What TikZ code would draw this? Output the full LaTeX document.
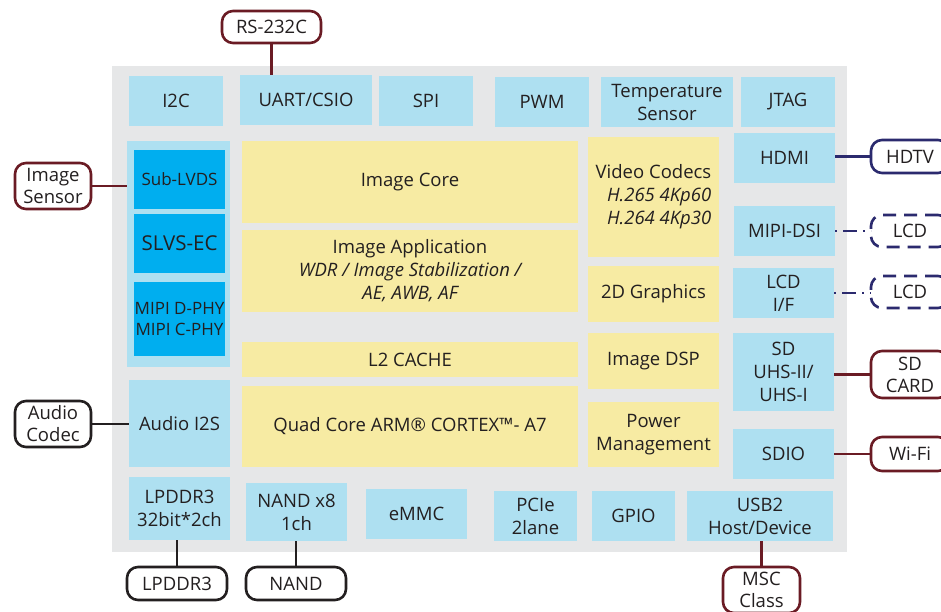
\documentclass[tikz,border=0pt]{standalone}
\usepackage{fontspec}
\setmainfont{Open Sans}
\usetikzlibrary{shapes}
\usetikzlibrary{arrows}

\begin{document}
\begin{tikzpicture}[x=1pt,y=1pt,
  sz/.style 2 args={minimum width=#1pt,minimum height=#2pt},
  blueBox/.style={fill=lightBlue,inner sep=0pt,outer sep=0pt,align=center,text=textColor,font=\fontsize{18.5}{23}\selectfont},
  cyanBox/.style={blueBox,fill=deepBlue,font=\fontsize{17}{21.5}\selectfont},
  yellowBox/.style={blueBox,fill=paleYellow},
  extBox/.style={draw=#1,line width=2.6pt,rounded corners=11pt,inner sep=0pt,outer sep=0pt,align=center,text=textColor,font=\fontsize{18.5}{22}\selectfont},
  wire/.style={draw=#1,line width=2.6pt}]
\definecolor{fillColor}{RGB}{255,255,255}
\definecolor{panelGray}{RGB}{230,231,232}
\definecolor{lightBlue}{RGB}{174,224,241}
\definecolor{deepBlue}{RGB}{0,174,239}
\definecolor{paleYellow}{RGB}{247,235,163}
\definecolor{textColor}{RGB}{35,31,32}
\definecolor{wineColor}{RGB}{106,27,36}
\definecolor{navyColor}{RGB}{43,42,110}
\definecolor{inkColor}{RGB}{35,31,32}
\path[use as bounding box,fill=fillColor] (0,0) rectangle (941,611);
\clip (0,0) rectangle (941,611);

% chip panel
\path[fill=panelGray] (112, 59) rectangle (847,545);

% top row
\node[blueBox,sz={94}{50}]  (i2c)   at (176,510) {I2C};
\node[blueBox,sz={132}{50}] (uart)  at (306,511) {UART/CSIO};
\node[blueBox,sz={94}{50}]  (spi)   at (426,510) {SPI};
\node[blueBox,sz={94}{50}]  (pwm)   at (542,509) {PWM};
\node[blueBox,sz={132}{50}] (tsens) at (667,509) {Temperature\\Sensor};
\node[blueBox,sz={94}{50}]  (jtag)  at (788,509) {JTAG};

% sensor interfaces
\node[blueBox,sz={103}{226}] (sensors) at (178.5,357) {};
\node[cyanBox,sz={91}{59}] (sublvds) at (179.5,431.5) {Sub-LVDS};
\node[cyanBox,sz={91}{59},font=\fontsize{20.5}{23}\selectfont] (slvs) at (179.5,367.5) {SLVS-EC};
\node[cyanBox,sz={91}{74}] (mipiphy) at (179.5,292) {MIPI D-PHY\\MIPI C-PHY};

% core blocks
\node[yellowBox,sz={336}{82}] (imgcore)  at (410,429) {Image Core};
\node[yellowBox,sz={336}{82}] (imgapp)   at (410,340) {Image Application\\\itshape WDR / Image Stabilization /\\\itshape AE, AWB, AF};
\node[yellowBox,sz={336}{35}] (ltwo)     at (410,251.5) {L2 CACHE};
\node[yellowBox,sz={336}{81}] (quadcore) at (410,184.5) {Quad Core ARM® CORTEX™- A7};
\node[yellowBox,sz={131}{120},align=right] (vcodec) at (653.5,414) {Video Codecs\\\itshape H.265 4Kp60\\\itshape H.264 4Kp30};
\node[yellowBox,sz={131}{56}] (gfx)  at (653.5,317) {2D Graphics};
\node[yellowBox,sz={131}{56}] (idsp) at (653.5,250) {Image DSP};
\node[yellowBox,sz={131}{65}] (pwr)  at (653.5,176.5) {Power\\Management};

% right column
\node[blueBox,sz={101}{50}] (hdmi)    at (784.5,453) {HDMI};
\node[blueBox,sz={101}{50}] (mipidsi) at (784.5,380) {MIPI-DSI};
\node[blueBox,sz={101}{50}] (lcdif)   at (783.5,318) {LCD\\I/F};
\node[blueBox,sz={101}{78}] (sdhost)  at (783.5,239) {SD\\UHS-II/\\UHS-I};
\node[blueBox,sz={101}{50}] (sdio)    at (783.5,157) {SDIO};

% left column and bottom row
\node[blueBox,sz={101}{87}]  (i2s)   at (179.5,187.5) {Audio I2S};
\node[blueBox,sz={101}{63}]  (lpddr) at (179.5,102.5) {LPDDR3\\32bit*2ch};
\node[blueBox,sz={101}{58}]  (nand)  at (296.5,99) {NAND x8\\1ch};
\node[blueBox,sz={101}{50}]  (emmc)  at (416.5,97) {eMMC};
\node[blueBox,sz={83}{50}]   (pcie)  at (535.5,95) {PCIe\\2lane};
\node[blueBox,sz={83}{50}]   (gpio)  at (633.5,95) {GPIO};
\node[blueBox,sz={146}{50}]  (usb)   at (760,95) {USB2\\Host/Device};

% external devices
\node[extBox=wineColor,sz={99}{32}]  (rsc)       at (271.5,584) {RS-232C};
\node[extBox=wineColor,sz={76}{46}]  (imgsensor) at (53,425) {Image\\Sensor};
\node[extBox=inkColor,sz={76}{46}]   (acodec)    at (53,187) {Audio\\Codec};
\node[extBox=inkColor,sz={100}{33}]  (lpddrx)    at (177,27.5) {LPDDR3};
\node[extBox=inkColor,sz={100}{33}]  (nandx)     at (296,27.5) {NAND};
\node[extBox=wineColor,sz={77}{46}]  (msc)       at (761.5,21) {MSC\\Class};
\node[extBox=navyColor,sz={78}{33}]  (hdtv)      at (910,454.5) {HDTV};
\node[extBox=navyColor,sz={78}{32},dash pattern=on 13pt off 8pt] (lcda) at (910,380) {LCD};
\node[extBox=navyColor,sz={78}{32},dash pattern=on 13pt off 8pt] (lcdb) at (910,319) {LCD};
\node[extBox=wineColor,sz={78}{47}]  (sdcard)    at (910,236.5) {SD\\CARD};
\node[extBox=wineColor,sz={78}{34}]  (wifi)      at (910,157) {Wi-Fi};

% connections
\path[wire=wineColor] (rsc.south) -- (rsc.south |- uart.north);
\path[wire=wineColor] (imgsensor.east) -- (imgsensor.east -| sensors.west);
\path[wire=inkColor] (acodec.east) -- (acodec.east -| i2s.west);
\path[wire=inkColor] (lpddrx.north) -- (lpddrx.north |- lpddr.south);
\path[wire=inkColor] (nandx.north) -- (nandx.north |- nand.south);
\path[wire=wineColor] (msc.north) -- (msc.north |- usb.south);
\path[wire=navyColor] (hdtv.west) -- (hdtv.west -| hdmi.east);
\path[wire=navyColor,dash pattern=on 2pt off 6pt on 14pt off 6pt] (mipidsi.east) -- (mipidsi.east -| lcda.west);
\path[wire=navyColor,dash pattern=on 2pt off 6pt on 14pt off 6pt] (lcdif.east) -- (lcdif.east -| lcdb.west);
\path[wire=wineColor] (sdhost.east |- sdcard.west) -- (sdcard.west);
\path[wire=wineColor] (sdio.east) -- (sdio.east -| wifi.west);
\end{tikzpicture}
\end{document}
